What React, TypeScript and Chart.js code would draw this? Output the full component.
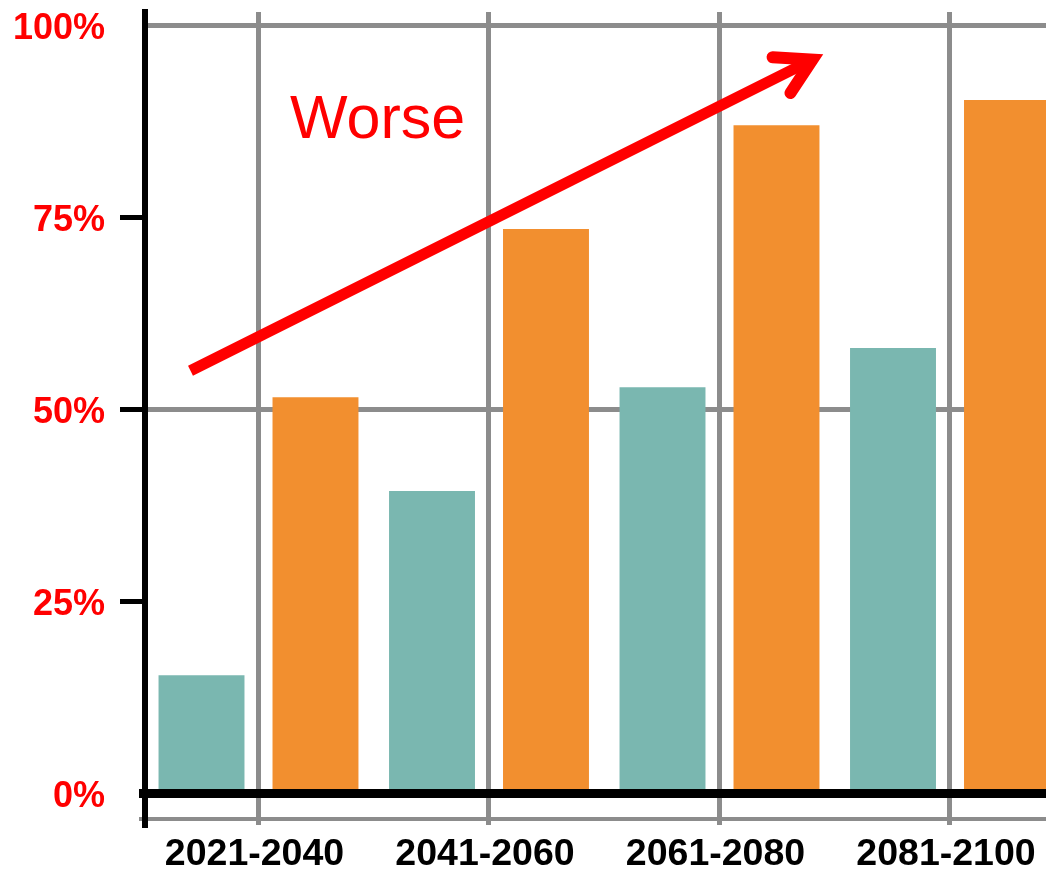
import React, { useEffect, useRef } from 'react';
import { Chart, registerables } from 'chart.js';

Chart.register(...registerables);

// ---- data ----
const categories = ['2021-2040', '2041-2060', '2061-2080', '2081-2100'];
const tealValues = [15.4, 39.4, 52.9, 58.0];
const orangeValues = [51.6, 73.5, 87.0, 90.3];
const yTickValues = [0, 25, 50, 75, 100];
const yTickMarks = [25, 50, 75];
const yGridValues = [50, 100];

// annotation (in data units)
const annotationText = 'Worse';
const textAnchor = { x: 0.137, y: 85.3 };
const arrowStart = { x: -0.295, y: 55.05 };
const arrowEnd = { x: 2.4035, y: 95.56 };
const baselineValue = -3.32;

// axis limits
const X_MIN = -0.4924;
const X_MAX = 3.4165;
const Y_MIN = -4.1;
const Y_MAX = 101.76;

const FONT = "'Liberation Sans', Arial, sans-serif";
const GRID = '#8c8c8c';
const TEAL = '#7ab7b0';
const ORANGE = '#f28f2f';
const RED = '#ff0000';

const overlayPlugin = {
  id: 'overlay',
  beforeDatasetsDraw(chart: any) {
    const { ctx, chartArea, scales } = chart;
    const y = scales.y;
    const yb = y.getPixelForValue(baselineValue);
    ctx.save();
    ctx.strokeStyle = GRID;
    ctx.lineWidth = 4;
    ctx.beginPath();
    ctx.moveTo(chartArea.left - 6, yb);
    ctx.lineTo(chartArea.right, yb);
    ctx.stroke();
    ctx.restore();
  },
  afterDatasetsDraw(chart: any) {
    const { ctx, chartArea, scales } = chart;
    const x = scales.x;
    const y = scales.y;
    ctx.save();
    // zero line
    const y0 = y.getPixelForValue(0);
    ctx.strokeStyle = '#000';
    ctx.lineWidth = 9;
    ctx.beginPath();
    ctx.moveTo(chartArea.left - 6, y0);
    ctx.lineTo(chartArea.right, y0);
    ctx.stroke();

    // arrow
    const sx = x.getPixelForValue(arrowStart.x);
    const sy = y.getPixelForValue(arrowStart.y);
    const ex = x.getPixelForValue(arrowEnd.x);
    const ey = y.getPixelForValue(arrowEnd.y);
    ctx.strokeStyle = RED;
    ctx.lineWidth = 11;
    ctx.lineCap = 'butt';
    ctx.beginPath();
    ctx.moveTo(sx, sy);
    ctx.lineTo(ex, ey);
    ctx.stroke();
    const ang = Math.atan2(ey - sy, ex - sx);
    const headLen = 40;
    const spread = (30 * Math.PI) / 180;
    ctx.lineWidth = 12;
    ctx.lineCap = 'round';
    ctx.lineJoin = 'miter';
    ctx.miterLimit = 10;
    ctx.beginPath();
    ctx.moveTo(ex - headLen * Math.cos(ang - spread), ey - headLen * Math.sin(ang - spread));
    ctx.lineTo(ex, ey);
    ctx.lineTo(ex - headLen * Math.cos(ang + spread), ey - headLen * Math.sin(ang + spread));
    ctx.stroke();

    // text
    ctx.fillStyle = RED;
    ctx.font = `61px ${FONT}`;
    ctx.textAlign = 'left';
    ctx.textBaseline = 'alphabetic';
    ctx.fillText(annotationText, x.getPixelForValue(textAnchor.x), y.getPixelForValue(textAnchor.y));
    ctx.restore();
  },
};

export default function App() {
  const ref = useRef<HTMLCanvasElement>(null);

  useEffect(() => {
    if (!ref.current) return;
    const chart = new Chart(ref.current, {
      type: 'bar',
      data: {
        datasets: [
          {
            label: 'A',
            data: tealValues.map((v, i) => ({ x: i, y: v })),
            backgroundColor: TEAL,
            borderWidth: 0,
          },
          {
            label: 'B',
            data: orangeValues.map((v, i) => ({ x: i, y: v })),
            backgroundColor: ORANGE,
            borderWidth: 0,
          },
        ],
      },
      options: {
        responsive: false,
        animation: false,
        categoryPercentage: 0.989,
        barPercentage: 0.754,
        layout: { padding: { top: 12, left: 13, right: 0, bottom: 0 } },
        plugins: {
          legend: { display: false },
          tooltip: { enabled: false },
        },
        scales: {
          x: {
            type: 'linear',
            offset: false,
            min: X_MIN,
            max: X_MAX,
            afterBuildTicks: (s: any) => {
              s.ticks = categories.map((_, i) => ({ value: i }));
            },
            afterFit: (s: any) => {
              s.paddingLeft = 0;
              s.paddingRight = 0;
              s.height = 47;
            },
            grid: { offset: false, color: GRID, lineWidth: 5, drawTicks: false },
            border: { display: false },
            ticks: {
              callback: (v: any) => categories[v] ?? '',
              color: '#000',
              font: { family: FONT, size: 37.5, weight: 'bold', lineHeight: 1 },
              padding: 11,
              labelOffset: -4,
              autoSkip: false,
              maxRotation: 0,
            },
          },
          y: {
            min: Y_MIN,
            max: Y_MAX,
            afterBuildTicks: (s: any) => {
              s.ticks = yTickValues.map((v) => ({ value: v }));
            },
            afterFit: (s: any) => {
              s.paddingTop = 0;
              s.paddingBottom = 0;
              s.width = 132;
            },
            grid: {
              color: (c: any) => (yGridValues.includes(c.tick?.value) ? GRID : 'rgba(0,0,0,0)'),
              lineWidth: 5,
              tickLength: 25,
              tickWidth: 5,
              tickColor: (c: any) => (yTickMarks.includes(c.tick?.value) ? '#000' : 'rgba(0,0,0,0)'),
            },
            border: { color: '#000', width: 6, z: 1 },
            ticks: {
              callback: (v: any) => `${v}%`,
              color: RED,
              font: { family: FONT, size: 36, weight: 'bold', lineHeight: 1 },
              padding: 15,
              labelOffset: 4,
            },
          },
        },
      } as any,
      plugins: [overlayPlugin],
    });
    return () => chart.destroy();
  }, []);

  return (
    <div
      style={{
        position: 'fixed',
        left: 0,
        top: 0,
        width: 1046,
        height: 872,
        overflow: 'hidden',
        background: '#fff',
      }}
    >
      <canvas ref={ref} width={1046} height={872} style={{ display: 'block', width: 1046, height: 872 }} />
    </div>
  );
}
